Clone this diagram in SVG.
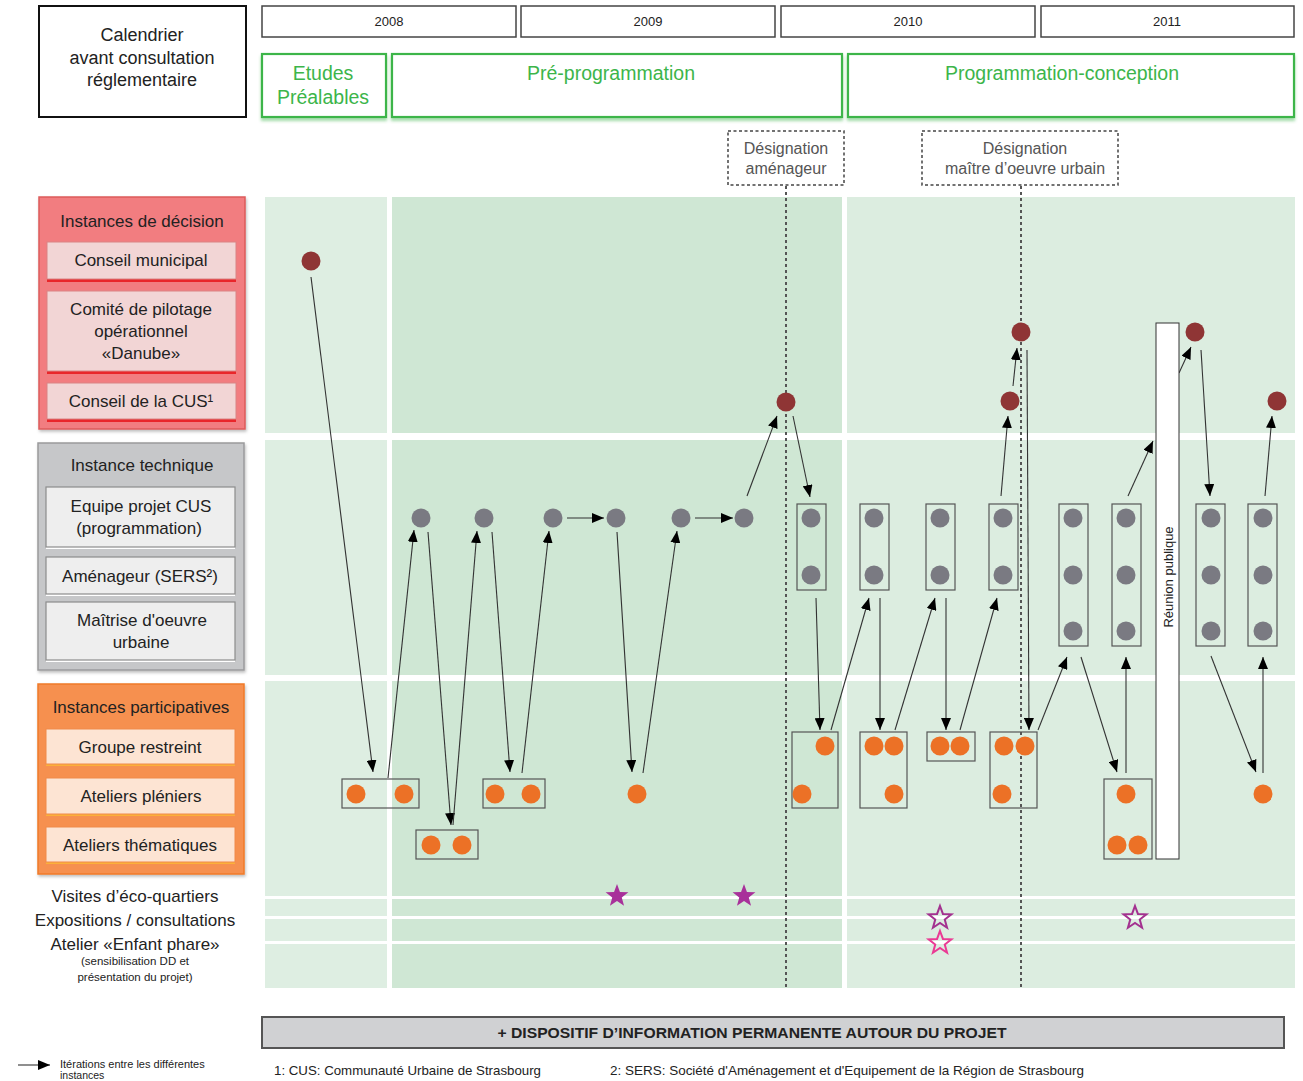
<svg xmlns="http://www.w3.org/2000/svg" width="1303" height="1081" viewBox="0 0 1303 1081">
<style>
.t{font-family:"Liberation Sans",Arial,sans-serif;fill:#222}
.c{text-anchor:middle}
.yr{fill:#fff;stroke:#444;stroke-width:1.5}
.ph{fill:#fff;stroke:#3cb54a;stroke-width:2.2;filter:url(#gs)}
.pht{font-family:"Liberation Sans",Arial,sans-serif;fill:#3cb54a;font-size:19.5px;text-anchor:middle}
.des{fill:#fff;stroke:#444;stroke-width:1.5;stroke-dasharray:3 2.5}
.dest{font-family:"Liberation Sans",Arial,sans-serif;fill:#555;font-size:16px;text-anchor:middle}
.guide{stroke:#555;stroke-width:2;stroke-dasharray:3 3;fill:none}
.red{fill:#8f3535}
.gr{fill:#7a7a82}
.or{fill:#ec7126}
.nb{fill:none;stroke:#555;stroke-width:1.2}
.arr{stroke:#333;stroke-width:1.1;fill:none;marker-end:url(#ah)}
.rsh{fill:#e9262a}.rbx{fill:#f2d5d5;stroke:#d98484;stroke-width:1}
.gsh{fill:#fff}.gbx{fill:#eeeeee;stroke:#8c8c8c;stroke-width:1.2}
.osh{fill:#fbb03b}.obx{fill:#fde4d3;stroke:#f08a4b;stroke-width:1}
.lt{font-size:17px}
</style>
<defs>
<marker id="ah" viewBox="0 0 12 10" refX="12" refY="5" markerWidth="12" markerHeight="10" markerUnits="userSpaceOnUse" orient="auto"><path d="M0,0 L12,5 L0,10 z" fill="#000"/></marker>
<filter id="gs" x="-5%" y="-20%" width="110%" height="150%"><feDropShadow dx="0" dy="3" stdDeviation="1.5" flood-color="#3cb54a" flood-opacity="0.45"/></filter>
<filter id="ds" x="-5%" y="-5%" width="115%" height="115%"><feDropShadow dx="1" dy="2" stdDeviation="1.5" flood-color="#000" flood-opacity="0.25"/></filter>
<polygon id="star" points="0,-12 2.94,-4.05 11.41,-3.71 4.76,1.55 7.05,9.71 0,5 -7.05,9.71 -4.76,1.55 -11.41,-3.71 -2.94,-4.05"/>
</defs>

<!-- header -->
<g id="calendrier">
<rect x="39" y="6" width="207" height="111" fill="#fff" stroke="#111" stroke-width="2"/>
<text class="t c" font-size="18" x="142" y="41">Calendrier</text>
<text class="t c" font-size="18" x="142" y="64">avant consultation</text>
<text class="t c" font-size="18" x="142" y="86">réglementaire</text>
</g>
<g id="years">
<rect class="yr" x="262" y="6" width="254" height="31"/><text class="t c" font-size="13" x="389" y="26">2008</text>
<rect class="yr" x="521" y="6" width="254" height="31"/><text class="t c" font-size="13" x="648" y="26">2009</text>
<rect class="yr" x="781" y="6" width="254" height="31"/><text class="t c" font-size="13" x="908" y="26">2010</text>
<rect class="yr" x="1041" y="6" width="253" height="31"/><text class="t c" font-size="13" x="1167" y="26">2011</text>
</g>
<g id="phase-etudes"><rect class="ph" x="262" y="54" width="124" height="63"/><text class="pht" x="323" y="80">Etudes</text><text class="pht" x="323" y="104">Préalables</text></g>
<g id="phase-preprog"><rect class="ph" x="392" y="54" width="450" height="63"/><text class="pht" x="611" y="80">Pré-programmation</text></g>
<g id="phase-progconc"><rect class="ph" x="848" y="54" width="446" height="63"/><text class="pht" x="1062" y="80">Programmation-conception</text></g>

<!-- chart background -->
<g id="background">
<rect x="265" y="197" width="122" height="791" fill="#deeee2"/>
<rect x="392" y="197" width="450" height="791" fill="#cfe7d4"/>
<rect x="847" y="197" width="448" height="791" fill="#dcede0"/>
<rect x="265" y="433" width="1030" height="7" fill="#fff"/>
<rect x="265" y="675" width="1030" height="6" fill="#fff"/>
<rect x="265" y="896" width="1030" height="3" fill="#fff"/>
<rect x="265" y="916" width="1030" height="3" fill="#fff"/>
<rect x="265" y="941" width="1030" height="3" fill="#fff"/>
</g>

<!-- designation -->
<g id="designation-amenageur"><rect class="des" x="728" y="131" width="116" height="54"/><text class="dest" x="786" y="154">Désignation</text><text class="dest" x="786" y="174">aménageur</text></g>
<g id="designation-moe"><rect class="des" x="922" y="131" width="196" height="54"/><text class="dest" x="1025" y="154">Désignation</text><text class="dest" x="1025" y="174">maître d’oeuvre urbain</text></g>
<g id="guides">
<line class="guide" x1="786" y1="186" x2="786" y2="988"/>
<line class="guide" x1="1021" y1="186" x2="1021" y2="988"/>
</g>

<!-- left panels -->
<g id="instances-decision">
<rect x="39" y="197" width="206" height="232" fill="#f27d80" stroke="#dd5b5b" stroke-width="1.5" filter="url(#ds)"/>
<text class="t c lt" x="142" y="227">Instances de décision</text>
</g>
<g id="conseil-municipal"><rect class="rsh" x="47" y="245" width="189" height="37"/><rect class="rbx" x="47" y="242" width="189" height="37"/><text class="t c lt" x="141" y="266">Conseil municipal</text></g>
<g id="comite-pilotage"><rect class="rsh" x="47" y="294" width="189" height="80"/><rect class="rbx" x="47" y="291" width="189" height="80"/><text class="t c lt" x="141" y="315">Comité de pilotage</text><text class="t c lt" x="141" y="337">opérationnel</text><text class="t c lt" x="141" y="359">«Danube»</text></g>
<g id="conseil-cus"><rect class="rsh" x="47" y="386" width="189" height="36"/><rect class="rbx" x="47" y="383" width="189" height="36"/><text class="t c lt" x="141" y="407">Conseil de la CUS¹</text></g>

<g id="instance-technique">
<rect x="38" y="443" width="206" height="227" fill="#c6c7c9" stroke="#9a9a9c" stroke-width="1.5" filter="url(#ds)"/>
<text class="t c lt" x="142" y="471">Instance technique</text>
</g>
<g id="equipe-projet"><rect class="gsh" x="46" y="489" width="189" height="60"/><rect class="gbx" x="46" y="487" width="189" height="60"/><text class="t c lt" x="141" y="512">Equipe projet CUS</text><text class="t c lt" x="139" y="534">(programmation)</text></g>
<g id="amenageur"><rect class="gsh" x="46" y="559" width="189" height="37"/><rect class="gbx" x="46" y="557" width="189" height="37"/><text class="t c lt" x="140" y="582">Aménageur (SERS²)</text></g>
<g id="maitrise"><rect class="gsh" x="46" y="604" width="189" height="58"/><rect class="gbx" x="46" y="602" width="189" height="58"/><text class="t c lt" x="142" y="626">Maîtrise d'oeuvre</text><text class="t c lt" x="141" y="648">urbaine</text></g>

<g id="instances-participatives">
<rect x="38" y="684" width="206" height="190" fill="#f6904f" stroke="#f07a2a" stroke-width="1.5" filter="url(#ds)"/>
<text class="t c lt" x="141" y="713">Instances participatives</text>
</g>
<g id="groupe-restreint"><rect class="osh" x="46" y="731" width="189" height="35"/><rect class="obx" x="46" y="729" width="189" height="35"/><text class="t c lt" x="140" y="753">Groupe restreint</text></g>
<g id="ateliers-pleniers"><rect class="osh" x="46" y="780" width="189" height="36"/><rect class="obx" x="46" y="778" width="189" height="36"/><text class="t c lt" x="141" y="802">Ateliers pléniers</text></g>
<g id="ateliers-thematiques"><rect class="osh" x="46" y="829" width="189" height="35"/><rect class="obx" x="46" y="827" width="189" height="35"/><text class="t c lt" x="140" y="851">Ateliers thématiques</text></g>

<g id="other-labels">
<text class="t c lt" x="135" y="902">Visites d’éco-quartiers</text>
<text class="t c lt" x="135" y="926">Expositions / consultations</text>
<text class="t c lt" x="135" y="950">Atelier «Enfant phare»</text>
<text class="t c" font-size="11.5" x="135" y="965">(sensibilisation DD et</text>
<text class="t c" font-size="11.5" x="135" y="981">présentation du projet)</text>
</g>

<!-- connectors -->
<g id="connectors">
<line class="arr" x1="311" y1="277" x2="373" y2="772"/>
<line class="arr" x1="388" y1="778" x2="414" y2="530"/>
<line class="arr" x1="428" y1="532" x2="451" y2="825"/>
<line class="arr" x1="453" y1="825" x2="477" y2="531"/>
<line class="arr" x1="492" y1="532" x2="510" y2="772"/>
<line class="arr" x1="522" y1="773" x2="549" y2="531"/>
<line class="arr" x1="567" y1="518" x2="604" y2="518"/>
<line class="arr" x1="617" y1="532" x2="632" y2="772"/>
<line class="arr" x1="643" y1="773" x2="677" y2="531"/>
<line class="arr" x1="695" y1="518" x2="733" y2="518"/>
<line class="arr" x1="747" y1="496" x2="777" y2="416"/>
<line class="arr" x1="793" y1="416" x2="810" y2="497"/>
<line class="arr" x1="816" y1="598" x2="820" y2="730"/>
<line class="arr" x1="831" y1="730" x2="869" y2="598"/>
<line class="arr" x1="880" y1="598" x2="880" y2="730"/>
<line class="arr" x1="895" y1="730" x2="935" y2="598"/>
<line class="arr" x1="946" y1="598" x2="946" y2="730"/>
<line class="arr" x1="960" y1="730" x2="997" y2="598"/>
<line class="arr" x1="1001" y1="496" x2="1008" y2="416"/>
<line class="arr" x1="1013" y1="386" x2="1017" y2="348"/>
<line class="arr" x1="1027" y1="350" x2="1029" y2="730"/>
<line class="arr" x1="1038" y1="730" x2="1067" y2="657"/>
<line class="arr" x1="1081" y1="657" x2="1117" y2="772"/>
<line class="arr" x1="1126" y1="773" x2="1126" y2="657"/>
<line class="arr" x1="1128" y1="496" x2="1153" y2="441"/>
<line class="arr" x1="1179" y1="373" x2="1191" y2="347"/>
<line class="arr" x1="1201" y1="350" x2="1210" y2="496"/>
<line class="arr" x1="1211" y1="656" x2="1256" y2="772"/>
<line class="arr" x1="1263" y1="773" x2="1263" y2="657"/>
<line class="arr" x1="1265" y1="496" x2="1272" y2="416"/>
</g>

<!-- reunion publique -->
<g id="reunion-publique">
<rect x="1156" y="323" width="23" height="536" fill="#fff" stroke="#333" stroke-width="1"/>
<text class="t c" font-size="13" transform="translate(1173,577) rotate(-90)">Réunion publique</text>
</g>

<!-- decision nodes -->
<g id="decision-nodes">
<circle class="red" cx="311" cy="261" r="9.5"/>
<circle class="red" cx="786" cy="402" r="9.5"/>
<circle class="red" cx="1021" cy="332" r="9.5"/>
<circle class="red" cx="1010" cy="401" r="9.5"/>
<circle class="red" cx="1195" cy="332" r="9.5"/>
<circle class="red" cx="1277" cy="401" r="9.5"/>
</g>

<!-- technical nodes -->
<g id="technical-nodes">
<circle class="gr" cx="421" cy="518" r="9.5"/>
<circle class="gr" cx="484" cy="518" r="9.5"/>
<circle class="gr" cx="553" cy="518" r="9.5"/>
<circle class="gr" cx="616" cy="518" r="9.5"/>
<circle class="gr" cx="681" cy="518" r="9.5"/>
<circle class="gr" cx="744" cy="518" r="9.5"/>
</g>
<g id="tech-box-1"><rect class="nb" x="797" y="504" width="29" height="86"/><circle class="gr" cx="811" cy="518" r="9.5"/><circle class="gr" cx="811" cy="575" r="9.5"/></g>
<g id="tech-box-2"><rect class="nb" x="860" y="504" width="29" height="86"/><circle class="gr" cx="874" cy="518" r="9.5"/><circle class="gr" cx="874" cy="575" r="9.5"/></g>
<g id="tech-box-3"><rect class="nb" x="926" y="504" width="29" height="86"/><circle class="gr" cx="940" cy="518" r="9.5"/><circle class="gr" cx="940" cy="575" r="9.5"/></g>
<g id="tech-box-4"><rect class="nb" x="989" y="504" width="29" height="86"/><circle class="gr" cx="1003" cy="518" r="9.5"/><circle class="gr" cx="1003" cy="575" r="9.5"/></g>
<g id="tech-box-5"><rect class="nb" x="1059" y="504" width="29" height="142"/><circle class="gr" cx="1073" cy="518" r="9.5"/><circle class="gr" cx="1073" cy="575" r="9.5"/><circle class="gr" cx="1073" cy="631" r="9.5"/></g>
<g id="tech-box-6"><rect class="nb" x="1112" y="504" width="29" height="142"/><circle class="gr" cx="1126" cy="518" r="9.5"/><circle class="gr" cx="1126" cy="575" r="9.5"/><circle class="gr" cx="1126" cy="631" r="9.5"/></g>
<g id="tech-box-7"><rect class="nb" x="1196" y="504" width="29" height="142"/><circle class="gr" cx="1211" cy="518" r="9.5"/><circle class="gr" cx="1211" cy="575" r="9.5"/><circle class="gr" cx="1211" cy="631" r="9.5"/></g>
<g id="tech-box-8"><rect class="nb" x="1248" y="504" width="29" height="142"/><circle class="gr" cx="1263" cy="518" r="9.5"/><circle class="gr" cx="1263" cy="575" r="9.5"/><circle class="gr" cx="1263" cy="631" r="9.5"/></g>

<!-- participative nodes -->
<g id="part-box-1"><rect class="nb" x="342" y="779" width="77" height="29"/><circle class="or" cx="356" cy="794" r="9.5"/><circle class="or" cx="404" cy="794" r="9.5"/></g>
<g id="part-box-2"><rect class="nb" x="416" y="830" width="62" height="29"/><circle class="or" cx="431" cy="845" r="9.5"/><circle class="or" cx="462" cy="845" r="9.5"/></g>
<g id="part-box-3"><rect class="nb" x="483" y="779" width="62" height="29"/><circle class="or" cx="495" cy="794" r="9.5"/><circle class="or" cx="531" cy="794" r="9.5"/></g>
<g id="part-single-1"><circle class="or" cx="637" cy="794" r="9.5"/></g>
<g id="part-box-4"><rect class="nb" x="792" y="732" width="46" height="76"/><circle class="or" cx="825" cy="746" r="9.5"/><circle class="or" cx="802" cy="794" r="9.5"/></g>
<g id="part-box-5"><rect class="nb" x="860" y="732" width="47" height="76"/><circle class="or" cx="874" cy="746" r="9.5"/><circle class="or" cx="894" cy="746" r="9.5"/><circle class="or" cx="894" cy="794" r="9.5"/></g>
<g id="part-box-6"><rect class="nb" x="927" y="732" width="48" height="29"/><circle class="or" cx="940" cy="746" r="9.5"/><circle class="or" cx="960" cy="746" r="9.5"/></g>
<g id="part-box-7"><rect class="nb" x="990" y="732" width="47" height="76"/><circle class="or" cx="1004" cy="746" r="9.5"/><circle class="or" cx="1025" cy="746" r="9.5"/><circle class="or" cx="1002" cy="794" r="9.5"/></g>
<g id="part-box-8"><rect class="nb" x="1104" y="779" width="48" height="80"/><circle class="or" cx="1126" cy="794" r="9.5"/><circle class="or" cx="1117" cy="845" r="9.5"/><circle class="or" cx="1138" cy="845" r="9.5"/></g>
<g id="part-single-2"><circle class="or" cx="1263" cy="794" r="9.5"/></g>

<!-- stars -->
<g id="stars">
<use href="#star" x="617" y="896" fill="#a8319a"/>
<use href="#star" x="744" y="896" fill="#a8319a"/>
<use href="#star" x="940" y="918" fill="none" stroke="#a3318f" stroke-width="2"/>
<use href="#star" x="940" y="943" fill="none" stroke="#ea3a94" stroke-width="2"/>
<use href="#star" x="1135" y="918" fill="none" stroke="#a3318f" stroke-width="2"/>
</g>

<!-- bottom -->
<g id="dispositif">
<rect x="262" y="1017" width="1022" height="31" fill="#d0d1d3" stroke="#555" stroke-width="2"/>
<text class="t c" font-size="15" font-weight="bold" x="752" y="1038" textLength="509" lengthAdjust="spacingAndGlyphs">+ DISPOSITIF D’INFORMATION PERMANENTE AUTOUR DU PROJET</text>
</g>
<g id="footnotes">
<text class="t" font-size="13" x="274" y="1075" textLength="267" lengthAdjust="spacingAndGlyphs">1: CUS: Communauté Urbaine de Strasbourg</text>
<text class="t" font-size="13" x="610" y="1075" textLength="474" lengthAdjust="spacingAndGlyphs">2: SERS:  Société d'Aménagement et d'Equipement de la Région de Strasbourg</text>
</g>
<g id="legend">
<line class="arr" x1="18" y1="1065" x2="50" y2="1065"/>
<text class="t" font-size="11" x="60" y="1068">Itérations entre les différentes</text>
<text class="t" font-size="10.5" x="60" y="1079">instances</text>
</g>
</svg>
